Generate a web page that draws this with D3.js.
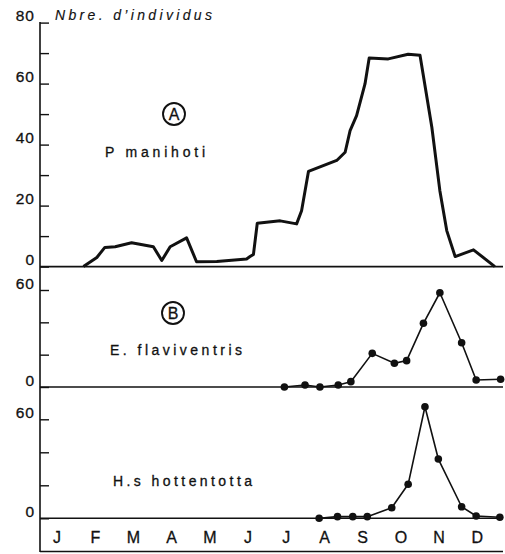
<!DOCTYPE html>
<html>
<head>
<meta charset="utf-8">
<script src="https://cdnjs.cloudflare.com/ajax/libs/d3/7.8.5/d3.min.js"></script>
<style>
  html, body { margin: 0; padding: 0; background: #fff; }
  svg { display: block; }
  text { font-family: "Liberation Sans", Arial, sans-serif; fill: #111; stroke: #111; stroke-width: 0.3px; }
</style>
</head>
<body>
<div id="chart"></div>
<script>
var width = 505,
    height = 554;

// month letters along the bottom
var months = ["J", "F", "M", "A", "M", "J", "J", "A", "S", "O", "N", "D"];

// A - P. manihoti (time in months from 1 Jan)
var manihotiTime = [1.19, 1.54, 1.75, 2.02, 2.45, 3.02, 3.24, 3.46, 3.89, 4.15, 4.68, 5.46,
  5.55, 5.64, 5.74, 6.34, 6.77, 6.90, 7.08, 7.82, 8.04, 8.17, 8.34, 8.56, 8.67,
  9.17, 9.69, 10.0, 10.31, 10.52, 10.70, 10.92, 11.40, 11.96];
var manihotiCount = [0, 3, 6.3, 6.5, 7.8, 6.5, 2, 6.5, 9.4, 1.6, 1.7, 2.5,
  3.3, 4, 14.2, 15, 14, 18.3, 31.2, 34.8, 37.5, 44.6, 49.5, 59.9, 68.4,
  68.1, 69.6, 69.3, 45.7, 24.9, 11.8, 3.3, 5.5, 0];

// B - E. flaviventris
var flaviTime = [6.45, 6.99, 7.38, 7.86, 8.19, 8.75, 9.33, 9.65, 10.09, 10.52, 11.09, 11.47, 12.11];
var flaviCount = [0, 1.2, 0, 1.2, 3.3, 20.8, 14.7, 16.3, 39.4, 58.3, 27.4, 4.3, 4.8];

// C - H.s hottentotta
var hottTime = [7.36, 7.84, 8.24, 8.62, 9.26, 9.69, 10.13, 10.48, 11.09, 11.47, 12.09];
var hottCount = [0, 1, 1, 1, 6.4, 20.6, 67.6, 35.9, 7, 1.4, 0.6];

var axisX = 40, rightX = 503;

var x = d3.scaleLinear().domain([0, 12]).range([38, 496.4]);
var xMonth = d3.scaleBand().domain(d3.range(12)).range([38, 496.4]);

var panels = [
  {y: d3.scaleLinear().domain([0, 80]).range([266.6, 22.6]), ticks: d3.range(0, 81, 10),
   labels: [0, 20, 40, 60, 80], t: manihotiTime, v: manihotiCount, dots: false,
   tag: "A", tagPos: [174, 114], name: "P manihoti", namePos: [105, 157], nameLen: 100},
  {y: d3.scaleLinear().domain([0, 60]).range([387, 290]), ticks: [0, 20, 40, 60],
   labels: [0, 60], t: flaviTime, v: flaviCount, dots: true,
   tag: "B", tagPos: [173, 313], name: "E. flaviventris", namePos: [110, 355], nameLen: 132},
  {y: d3.scaleLinear().domain([0, 60]).range([518.3, 419.3]), ticks: [0, 20, 40, 60],
   labels: [0, 60], t: hottTime, v: hottCount, dots: true,
   tag: null, name: "H.s hottentotta", namePos: [113, 486], nameLen: 139}
];

var svg = d3.select("#chart").append("svg")
    .attr("width", width)
    .attr("height", height);

panels.forEach(function(p) {
  var g = svg.append("g");

  var axis = d3.axisLeft(p.y)
      .tickValues(p.ticks)
      .tickSize(-9)
      .tickPadding(5)
      .tickFormat(function(d) { return p.labels.indexOf(d) >= 0 ? d : ""; });

  g.append("g")
      .attr("transform", "translate(" + axisX + ",0)")
      .call(axis)
      .call(function(s) {
        s.select(".domain").remove();
        s.selectAll(".tick line").attr("stroke", "#111").attr("stroke-width", 1.4);
        s.selectAll(".tick text")
            .attr("dy", "-0.12em")
            .style("font-size", "15.5px")
            .style("letter-spacing", "1px")
            .style("font-family", "'Liberation Sans', Arial, sans-serif")
            .attr("fill", "#111");
      });

  // zero baseline
  g.append("line")
      .attr("x1", axisX).attr("x2", rightX)
      .attr("y1", p.y(0)).attr("y2", p.y(0))
      .attr("stroke", "#111").attr("stroke-width", 1.6);

  var pts = p.t.map(function(t, i) { return [t, p.v[i]]; });
  var line = d3.line()
      .x(function(d) { return x(d[0]); })
      .y(function(d) { return p.y(d[1]); });

  g.append("path")
      .datum(pts)
      .attr("d", line)
      .attr("fill", "none")
      .attr("stroke", "#111")
      .attr("stroke-width", p.dots ? 1.6 : 3)
      .attr("stroke-linejoin", "round");

  if (p.dots) {
    g.selectAll("circle.pt")
        .data(pts)
      .enter().append("circle")
        .attr("class", "pt")
        .attr("cx", function(d) { return x(d[0]); })
        .attr("cy", function(d) { return p.y(d[1]); })
        .attr("r", 3.8)
        .attr("fill", "#111");
  }

  if (p.tag) {
    g.append("circle")
        .attr("cx", p.tagPos[0]).attr("cy", p.tagPos[1])
        .attr("r", 11)
        .attr("fill", "none").attr("stroke", "#111").attr("stroke-width", 1.9);
    g.append("text")
        .attr("x", p.tagPos[0]).attr("y", p.tagPos[1] + 5.8)
        .attr("text-anchor", "middle")
        .style("font-size", "16px")
        .text(p.tag);
  }

  g.append("text")
      .attr("x", p.namePos[0]).attr("y", p.namePos[1])
      .attr("textLength", p.nameLen)
      .attr("lengthAdjust", "spacing")
      .style("font-size", "14px")
      .text(p.name);
});

// continuous vertical axis line
svg.append("line")
    .attr("x1", axisX).attr("x2", axisX)
    .attr("y1", 22).attr("y2", 552)
    .attr("stroke", "#111").attr("stroke-width", 1.6);

// month box bottom line
svg.append("line")
    .attr("x1", axisX).attr("x2", rightX)
    .attr("y1", 551.5).attr("y2", 551.5)
    .attr("stroke", "#111").attr("stroke-width", 1.6);

svg.selectAll("text.month")
    .data(months)
  .enter().append("text")
    .attr("class", "month")
    .attr("x", function(d, i) { return xMonth(i) + xMonth.bandwidth() / 2; })
    .attr("y", 543)
    .attr("text-anchor", "middle")
    .style("font-size", "16px")
    .text(function(d) { return d; });

// y title
svg.append("text")
    .attr("x", 55).attr("y", 20)
    .attr("textLength", 157)
    .attr("lengthAdjust", "spacing")
    .style("font-size", "14px")
    .style("font-style", "italic")
    .style("stroke-width", "0.15px")
    .text("Nbre. d\u2019individus");
</script>
</body>
</html>
